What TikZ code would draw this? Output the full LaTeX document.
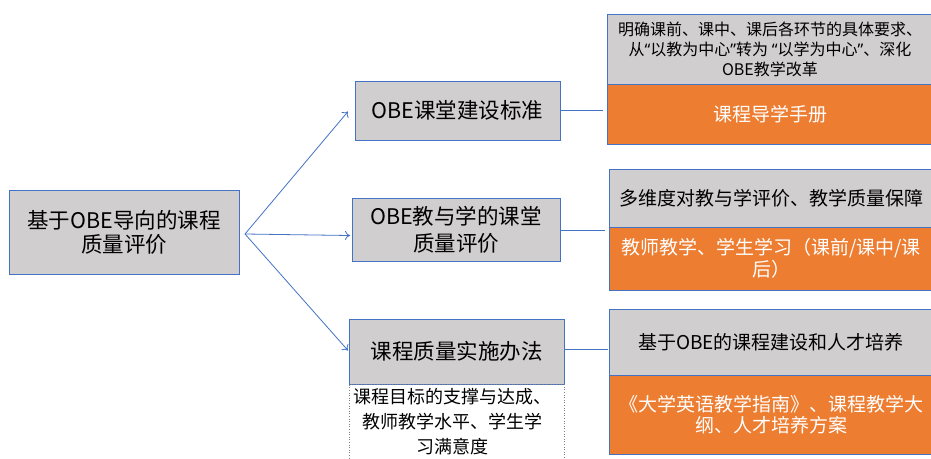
\documentclass[tikz,border=0pt]{standalone}
\usepackage{fontspec}
\setmainfont{Noto Sans CJK SC}
\newfontfamily\lat{Noto Sans}
\usetikzlibrary{arrows.meta}
\definecolor{bord}{HTML}{4472C4}
\definecolor{boxg}{HTML}{D0CECE}
\definecolor{orng}{HTML}{ED7D31}
\tikzset{
  basebox/.style={draw=bord, line width=0.9pt, inner sep=0pt, outer sep=0pt, align=center},
  graybox/.style={basebox, fill=boxg, text=black},
  orangebox/.style={basebox, fill=orng, text=white},
  conn/.style={draw=bord, line width=0.8pt},
  arr/.style={conn, -{To[length=5pt,width=9pt]}},
  fbig/.style={font=\fontsize{21.5pt}{24pt}\selectfont},
  fmid/.style={font=\fontsize{19pt}{22pt}\selectfont},
  fsmall/.style={font=\fontsize{16pt}{20pt}\selectfont},
}
\begin{document}
\begin{tikzpicture}[x=1pt,y=-1pt]
\clip (0,0) rectangle (931,458);
\fill[white] (0,0) rectangle (931,458);
% left main box
\node[graybox, fbig, minimum width=230pt, minimum height=84pt] (main) at (124,232) {基于OBE导向的课程\\质量评价};
% middle boxes
\node[graybox, fbig, minimum width=205pt, minimum height=59pt] (b1) at (457.5,110.5) {OBE课堂建设标准};
\node[graybox, fbig, font=\fontsize{21.5pt}{27pt}\selectfont, minimum width=208pt, minimum height=63pt] (b2) at (456,229.5) {OBE教与学的课堂\\质量评价};
\node[graybox, fbig, minimum width=215pt, minimum height=65pt] (b3) at (456.5,351.5) {课程质量实施办法};
\node[draw=gray, dotted, line width=0.6pt, inner sep=0pt, minimum width=215pt, minimum height=100pt, anchor=north] (b3d) at (b3.south) {};
\node[font=\fontsize{18pt}{25pt}\selectfont, align=center, inner sep=0pt] (b3t) at (452,422) {课程目标的支撑与达成、\\教师教学水平、学生学\\习满意度};
% right boxes
\node[graybox, fsmall, minimum width=326pt, minimum height=70pt] (r1g) at (770,49) {明确课前、课中、课后各环节的具体要求、\\从{\lat“}以教为中心{\lat”}转为 {\lat“}以学为中心{\lat”}、深化\\OBE教学改革};
\node[orangebox, fmid, minimum width=326pt, minimum height=60pt] (r1o) at (770,114) {课程导学手册};
\node[graybox, fmid, minimum width=324pt, minimum height=58pt] (r2g) at (771,198) {多维度对教与学评价、教学质量保障};
\node[orangebox, fmid, minimum width=324pt, minimum height=63pt] (r2o) at (771,258.5) {教师教学、学生学习（课前/课中/课\\后）};
\node[graybox, fmid, minimum width=324pt, minimum height=66pt] (r3g) at (771,342) {基于OBE的课程建设和人才培养};
\node[orangebox, fmid, font=\fontsize{19pt}{21pt}\selectfont, minimum width=324pt, minimum height=79pt] (r3o) at (771,414.5) {《大学英语教学指南》、课程教学大\\纲、人才培养方案};
% connectors
\coordinate (src) at (245,234);
\draw[arr] (src) -- ([xshift=-7pt,yshift=-1pt]b1.west);
\draw[arr] (src) -- ([xshift=-2pt,yshift=-6pt]b2.west);
\draw[arr] (src) -- ([xshift=-1pt,yshift=1pt]b3.west);
\draw[conn] (b1.east) -- ([xshift=-4pt]b1.east -| r1o.west);
\draw[conn] ([yshift=-0.5pt]b2.east) -- ([xshift=-4pt,yshift=-0.5pt]b2.east -| r2g.west);
\draw[conn] ([yshift=2pt]b3.east) -- ([xshift=-1pt,yshift=2pt]b3.east -| r3g.west);
\end{tikzpicture}
\end{document}
